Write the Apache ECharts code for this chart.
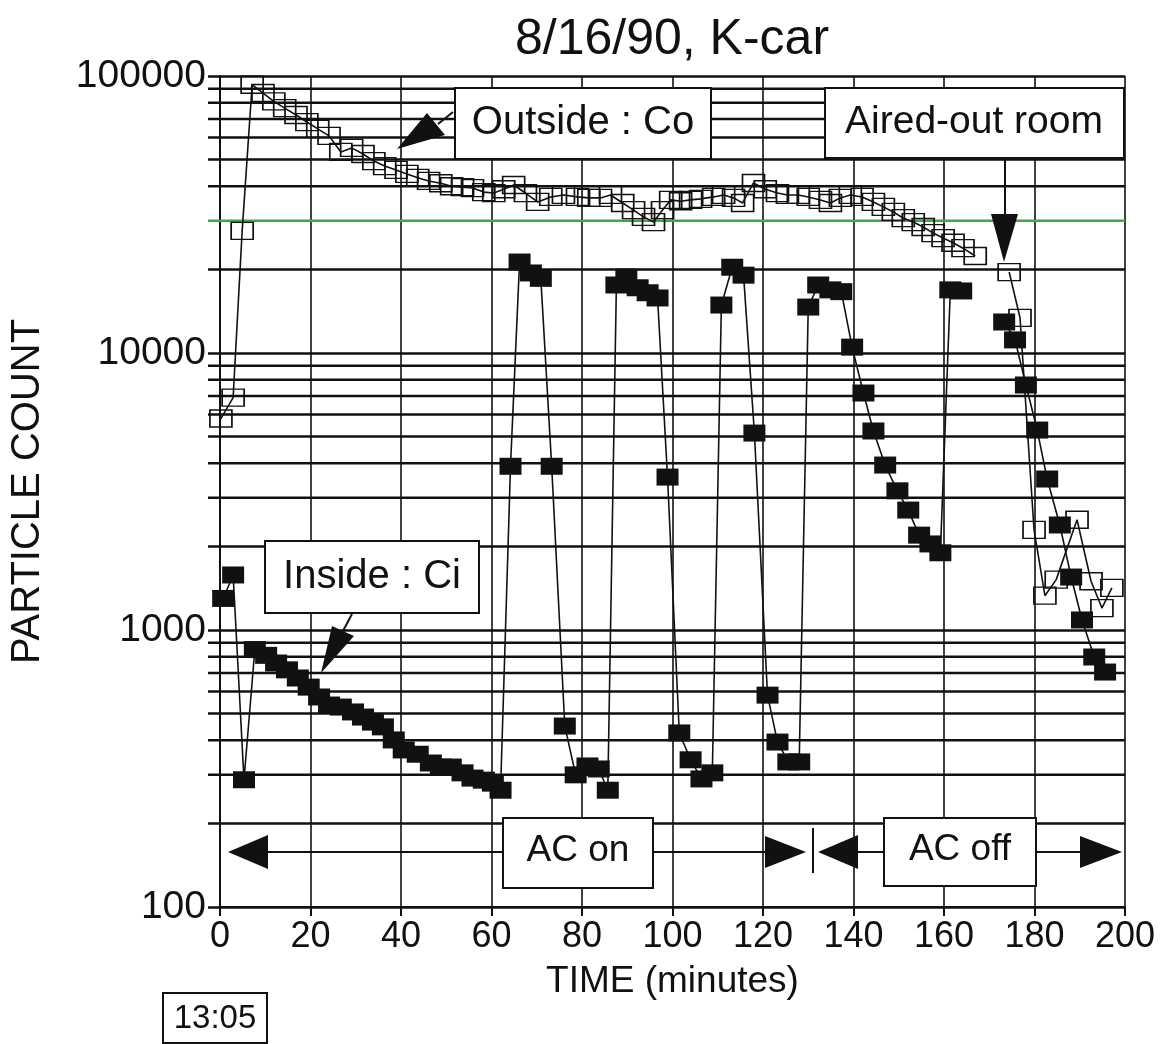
<!DOCTYPE html>
<html>
<head>
<meta charset="utf-8">
<title>8/16/90, K-car</title>
<script src="https://cdn.jsdelivr.net/npm/echarts@6/dist/echarts.min.js"></script>
<style>
    html, body { margin: 0; padding: 0; background: #fff; }
    #kcar_chart { width: 1173px; height: 1044px; }
</style>
</head>
<body>
<div id="kcar_chart"></div>
<script>
// 数据 : 时间(分钟) 和 粒子数
var outsideTime = [0.2, 2.9, 4.9, 7.1, 9.5, 11.9, 14.3, 16.8, 19.2, 21.6, 24.1, 26.7, 29.1, 31.6, 34.0,
    36.4, 38.9, 41.3, 43.7, 46.1, 48.8, 51.2, 53.6, 55.8, 58.3, 60.5, 62.7, 64.9, 67.5, 70.2,
    73.1, 75.9, 79.0, 81.5, 84.1, 86.3, 89.0, 91.4, 93.6, 95.8, 97.8, 99.6, 101.8, 104.0, 106.2,
    109.1, 111.3, 113.5, 115.5, 117.9, 120.5, 123.2, 125.4, 127.8, 130.0, 132.7, 134.9, 137.1, 139.3, 141.9,
    144.4, 146.6, 148.8, 151.0, 153.2, 155.4, 157.6, 159.8, 162.0, 164.2, 166.9, 170.5, 174.4, 176.8, 179.9,
    182.3, 184.8, 189.4, 192.5, 194.9, 197.1];
var outsideCount = [5800, 6900, 27600, 93000, 86800, 81000, 76600, 72300, 68200, 64400, 60800, 53200, 55000, 52300, 49300,
    47300, 45800, 44300, 42900, 41800, 41000, 40000, 39700, 39400, 38100, 37800, 39000, 40400, 37800, 35100,
    36600, 37200, 36600, 36300, 36300, 37200, 34800, 32800, 31000, 29700, 32800, 35700, 35300, 35700, 36000,
    36600, 37200, 36300, 34800, 41100, 39000, 37800, 37200, 37200, 36600, 35700, 34800, 36300, 37200, 36600,
    35100, 33700, 32300, 30700, 29700, 28500, 27100, 26000, 25000, 23900, 22400, null, 19600, 13400, 2300,
    1330, 1520, 2500, 1500, 1200, 1420];

var insideTime = [0.7, 2.9, 5.3, 7.7, 10.2, 12.4, 14.8, 17.2, 19.6, 21.9, 24.1, 26.7, 29.4, 31.6, 33.8,
    36.0, 38.4, 40.6, 43.7, 46.6, 48.8, 51.0, 53.6, 55.8, 58.3, 60.3, 62.0, 64.2, 66.2, 68.7,
    70.9, 73.3, 76.2, 78.6, 81.2, 83.7, 85.7, 87.6, 89.8, 92.3, 94.5, 96.7, 98.9, 101.5, 104.0,
    106.4, 108.8, 110.8, 113.2, 115.7, 118.1, 121.0, 123.2, 125.6, 128.0, 130.0, 132.2, 134.9, 137.3, 139.7,
    142.2, 144.4, 147.0, 149.7, 152.1, 154.5, 157.0, 159.2, 161.4, 163.8, 168.5, 173.3, 175.7, 178.1, 180.6,
    182.8, 185.6, 188.1, 190.5, 193.2, 195.6];
var insideCount = [1300, 1580, 288, 850, 810, 760, 718, 671, 622, 573, 536, 527, 506, 485, 465,
    447, 401, 369, 356, 331, 320, 320, 305, 292, 287, 280, 264, 3900, 21300, 19450,
    18600, 3900, 450, 300, 323, 315, 264, 17600, 18800, 17200, 16500, 15800, 3565, 425, 340,
    290, 305, 14900, 20400, 19100, 5140, 582, 394, 334, 334, 14650, 17600, 16900, 16650, 10500,
    7170, 5230, 3940, 3180, 2710, 2200, 2045, 1900, 16900, 16750, null, 12940, 11150, 7665, 5270,
    3508, 2394, 1553, 1087, 799, 705];

// 对数坐标的次网格线
var minorGrid = [200, 300, 400, 500, 600, 700, 800, 900,
    2000, 3000, 4000, 5000, 6000, 7000, 8000, 9000,
    20000, 30000, 40000, 50000, 60000, 70000, 80000, 90000];
var greenGrid = 30000;

function pairs(ts, vs){
    var arr = [];
    for (var i = 0; i < ts.length; i++) {
        arr.push([ts[i], vs[i] === null ? '-' : vs[i]]);
    }
    return arr;
}

var FONT = 'Liberation Sans, Arial, sans-serif';

var kcar = echarts.init(document.getElementById('kcar_chart'));
kcar.setOption({
    animation: false,
    backgroundColor: '#fff',
    grid: {
        left: 219,
        right: 48,
        top: 76,
        bottom: 137
    },
    xAxis: {
        type: 'value',
        min: 0,
        max: 200,
        interval: 20,
        name: 'TIME (minutes)',
        nameLocation: 'middle',
        nameGap: 56,
        nameTextStyle: { fontSize: 37, fontFamily: FONT, color: '#111' },
        axisLine: { lineStyle: { color: '#111', width: 2 } },
        axisTick: { show: true, inside: false, length: 9, lineStyle: { color: '#111', width: 2 } },
        axisLabel: { fontSize: 36, fontFamily: FONT, color: '#111', margin: 12 },
        splitLine: { show: true, lineStyle: { color: '#111', width: 1.6 } }
    },
    yAxis: {
        type: 'log',
        logBase: 10,
        min: 100,
        max: 100000,
        name: 'PARTICLE COUNT',
        nameLocation: 'middle',
        nameRotate: 90,
        nameGap: 172,
        nameTextStyle: { fontSize: 40, fontFamily: FONT, color: '#111' },
        axisLine: { show: true, lineStyle: { color: '#111', width: 2 } },
        axisTick: { show: true, inside: false, length: 12, lineStyle: { color: '#111', width: 2.5 } },
        axisLabel: {
            fontSize: 39, fontFamily: FONT, color: '#111', margin: 14,
            formatter: function(v){ return String(Math.round(v)); }
        },
        splitLine: { show: true, lineStyle: { color: '#111', width: 2.5 } }
    },
    series: [
        {
            // 次网格线, 左侧伸出一点
            type: 'custom',
            name: 'grid',
            silent: true,
            z: 1,
            data: minorGrid.map(function(v){ return [0, v]; }),
            renderItem: function(params, api){
                var v = api.value(1);
                var p0 = api.coord([0, v]);
                var p1 = api.coord([200, v]);
                return {
                    type: 'line',
                    shape: { x1: p0[0] - 12, y1: p0[1], x2: p1[0], y2: p1[1] },
                    style: { stroke: v === greenGrid ? '#3fa83f' : '#111', lineWidth: 2.5 }
                };
            }
        },
        {
            name: 'Outside : Co',
            type: 'line',
            z: 3,
            data: pairs(outsideTime, outsideCount),
            connectNulls: false,
            symbol: 'rect',
            symbolSize: [22, 17],
            lineStyle: { color: '#111', width: 1.6 },
            itemStyle: { color: 'rgba(0,0,0,0)', borderColor: '#111', borderWidth: 1.5 }
        },
        {
            name: 'Inside : Ci',
            type: 'line',
            z: 4,
            data: pairs(insideTime, insideCount),
            connectNulls: false,
            symbol: 'rect',
            symbolSize: [22, 17],
            lineStyle: { color: '#111', width: 1.6 },
            itemStyle: { color: '#111', borderWidth: 0 }
        }
    ],
    graphic: [
        // 标题
        { type: 'text', x: 672, y: 40, z: 100, style: { text: '8/16/90, K-car', fontSize: 50, fontFamily: FONT, fill: '#111', align: 'center', verticalAlign: 'middle' } },
        // Outside 标注
        { type: 'polyline', z: 100, shape: { points: [[453, 112], [438, 124]] }, style: { stroke: '#111', lineWidth: 2 } },
        { type: 'polygon', z: 100, shape: { points: [[397, 149], [427, 113], [445, 135]] }, style: { fill: '#111' } },
        { type: 'rect', z: 100, shape: { x: 455, y: 88, width: 256, height: 71 }, style: { fill: '#fff', stroke: '#111', lineWidth: 2 } },
        { type: 'text', x: 583, y: 123, z: 101, style: { text: 'Outside : Co', fontSize: 40, fontFamily: FONT, fill: '#111', align: 'center', verticalAlign: 'middle' } },
        // Aired-out room 标注
        { type: 'polyline', z: 100, shape: { points: [[1005, 158], [1005, 214]] }, style: { stroke: '#111', lineWidth: 2 } },
        { type: 'polygon', z: 100, shape: { points: [[991, 214], [1018, 214], [1004, 262]] }, style: { fill: '#111' } },
        { type: 'rect', z: 100, shape: { x: 825, y: 88, width: 299, height: 70 }, style: { fill: '#fff', stroke: '#111', lineWidth: 2 } },
        { type: 'text', x: 974, y: 122, z: 101, style: { text: 'Aired-out room', fontSize: 39, fontFamily: FONT, fill: '#111', align: 'center', verticalAlign: 'middle' } },
        // Inside 标注
        { type: 'polyline', z: 100, shape: { points: [[352, 614], [343, 631]] }, style: { stroke: '#111', lineWidth: 2 } },
        { type: 'polygon', z: 100, shape: { points: [[321, 673], [332, 626], [354, 636]] }, style: { fill: '#111' } },
        { type: 'rect', z: 100, shape: { x: 265, y: 541, width: 214, height: 72 }, style: { fill: '#fff', stroke: '#111', lineWidth: 2 } },
        { type: 'text', x: 372, y: 577, z: 101, style: { text: 'Inside : Ci', fontSize: 40, fontFamily: FONT, fill: '#111', align: 'center', verticalAlign: 'middle' } },
        // AC on / AC off 箭头
        { type: 'polygon', z: 100, shape: { points: [[228, 852], [268, 835], [268, 869]] }, style: { fill: '#111' } },
        { type: 'polyline', z: 100, shape: { points: [[268, 852], [503, 852]] }, style: { stroke: '#111', lineWidth: 2 } },
        { type: 'polyline', z: 100, shape: { points: [[653, 852], [765, 852]] }, style: { stroke: '#111', lineWidth: 2 } },
        { type: 'polygon', z: 100, shape: { points: [[765, 836], [765, 868], [806, 852]] }, style: { fill: '#111' } },
        { type: 'polyline', z: 100, shape: { points: [[813, 828], [813, 873]] }, style: { stroke: '#111', lineWidth: 2 } },
        { type: 'polygon', z: 100, shape: { points: [[818, 852], [858, 835], [858, 869]] }, style: { fill: '#111' } },
        { type: 'polyline', z: 100, shape: { points: [[858, 852], [884, 852]] }, style: { stroke: '#111', lineWidth: 2 } },
        { type: 'polyline', z: 100, shape: { points: [[1036, 852], [1080, 852]] }, style: { stroke: '#111', lineWidth: 2 } },
        { type: 'polygon', z: 100, shape: { points: [[1080, 836], [1080, 868], [1122, 852]] }, style: { fill: '#111' } },
        { type: 'rect', z: 100, shape: { x: 503, y: 818, width: 150, height: 70 }, style: { fill: '#fff', stroke: '#111', lineWidth: 2 } },
        { type: 'text', x: 578, y: 851, z: 101, style: { text: 'AC on', fontSize: 37, fontFamily: FONT, fill: '#111', align: 'center', verticalAlign: 'middle' } },
        { type: 'rect', z: 100, shape: { x: 884, y: 818, width: 152, height: 68 }, style: { fill: '#fff', stroke: '#111', lineWidth: 2 } },
        { type: 'text', x: 960, y: 850, z: 101, style: { text: 'AC off', fontSize: 37, fontFamily: FONT, fill: '#111', align: 'center', verticalAlign: 'middle' } },
        // 起始时间
        { type: 'rect', z: 100, shape: { x: 163, y: 993, width: 104, height: 50 }, style: { fill: '#fff', stroke: '#111', lineWidth: 2 } },
        { type: 'text', x: 215, y: 1019, z: 101, style: { text: '13:05', fontSize: 33, fontFamily: FONT, fill: '#111', align: 'center', verticalAlign: 'middle' } }
    ]
});

window.onresize = function(){
    kcar.resize();
}
</script>
</body>
</html>
